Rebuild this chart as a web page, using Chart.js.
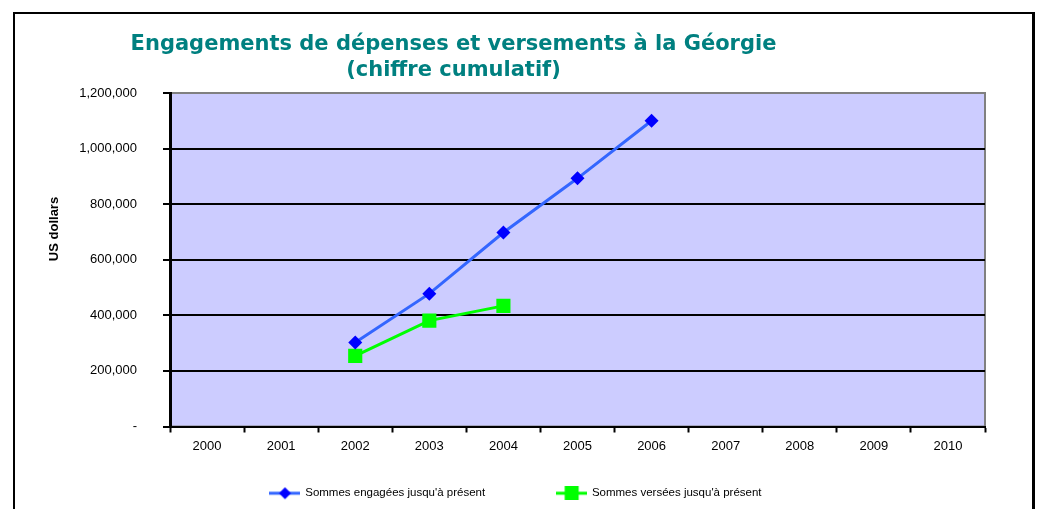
<!DOCTYPE html>
<html>
<head>
<meta charset="utf-8">
<script src="https://cdn.jsdelivr.net/npm/chart.js@4.4.1/dist/chart.umd.min.js"></script>
<style>
  html, body { margin:0; padding:0; background:#fff; }
  #wrap { position:relative; width:1042px; height:509px; overflow:hidden; }
  #frame { position:absolute; left:13px; top:12px; width:1017px; height:520px;
           border-left:2px solid #000; border-top:2px solid #000; border-right:3px solid #000; }
  #title { position:absolute; left:0; top:30px; width:907px; text-align:center;
           font:bold 21px "DejaVu Sans", Verdana, sans-serif; color:#008080; line-height:26px; }
  canvas { position:absolute; left:0; top:0; }
</style>
</head>
<body>
<div id="wrap">
  <div id="frame"></div>
  <canvas id="chart" width="1042" height="509"></canvas>
  <div id="title">Engagements de dépenses et versements à la Géorgie<br>(chiffre cumulatif)</div>
</div>
<script>
// ---- data ----
const years = ['2000','2001','2002','2003','2004','2005','2006','2007','2008','2009','2010'];
const engagees = [null, null, 302000, 478000, 698000, 893000, 1100000, null, null, null, null];
const versees  = [null, null, 254000, 381000, 434000, null, null, null, null, null, null];
const seriesLabels = ['Sommes engagées jusqu\'à présent', 'Sommes versées jusqu\'à présent'];
const yTitle = 'US dollars';
const yMax = 1200000;
const yStep = 200000;

// legend sample: line with the marker in the middle
function legendIcon(lineColor, markColor, shape) {
  const c = document.createElement('canvas');
  c.width = 31; c.height = 14;
  const g = c.getContext('2d');
  g.strokeStyle = lineColor; g.lineWidth = 3;
  g.beginPath(); g.moveTo(0, 7); g.lineTo(31, 7); g.stroke();
  g.fillStyle = markColor;
  g.beginPath();
  if (shape === 'diamond') {
    g.moveTo(15.5, 1); g.lineTo(21.5, 7); g.lineTo(15.5, 13); g.lineTo(9.5, 7);
  } else {
    g.rect(8.5, 0, 14, 14);
  }
  g.fill();
  return c;
}

const plotBg = {
  id: 'plotBg',
  afterLayout(chart) {
    // nudge the legend to where the original has it
    const lg = chart.legend;
    lg.left += 2; lg.right += 2;
    lg.top -= 38; lg.bottom -= 38;
  },
  beforeDraw(chart) {
    const { ctx, chartArea: a } = chart;
    ctx.save();
    ctx.fillStyle = '#CCCCFF';
    ctx.fillRect(a.left, a.top, a.right - a.left, a.bottom - a.top);
    ctx.strokeStyle = '#808080';
    ctx.lineWidth = 2;
    ctx.strokeRect(a.left, a.top, a.right - a.left, a.bottom - a.top);
    ctx.restore();
  },
  afterDraw(chart) {
    const ctx = chart.ctx;
    ctx.save();
    ctx.translate(54, 229);
    ctx.rotate(-Math.PI / 2);
    ctx.font = 'bold 13px "Liberation Sans", Arial, sans-serif';
    ctx.fillStyle = '#000';
    ctx.textAlign = 'center';
    ctx.textBaseline = 'middle';
    ctx.fillText(yTitle, 0, 0);
    ctx.restore();
  }
};

Chart.defaults.font.family = '"Liberation Sans", Arial, sans-serif';
Chart.defaults.color = '#000';

new Chart(document.getElementById('chart'), {
  type: 'line',
  data: {
    labels: years,
    datasets: [
      { label: seriesLabels[0], data: engagees, borderColor:'#3366FF', borderWidth:3,
        pointStyle:'rectRot', pointRadius:7, pointBackgroundColor:'#0000FF', pointBorderColor:'#0000FF',
        pointBorderWidth:0, spanGaps:false },
      { label: seriesLabels[1], data: versees, borderColor:'#00FF00', borderWidth:3,
        pointStyle:'rect', pointRadius:10, pointBackgroundColor:'#00FF00', pointBorderColor:'#00FF00',
        pointBorderWidth:0, spanGaps:false }
    ]
  },
  options: {
    responsive: false,
    animation: false,
    layout: { padding: { left: 43, right: 57, top: 93, bottom: -38 } },
    plugins: {
      title: { display: false },
      tooltip: { enabled: false },
      legend: {
        position: 'bottom',
        labels: {
          usePointStyle: true,
          pointStyleWidth: 29,
          padding: 72,
          font: { size: 11.5 },
          color: '#000',
          generateLabels(chart) {
            return [
              { text: seriesLabels[0], pointStyle: legendIcon('#3366FF', '#0000FF', 'diamond'), datasetIndex: 0, lineWidth: 0, hidden: false },
              { text: seriesLabels[1], pointStyle: legendIcon('#00FF00', '#00FF00', 'square'), datasetIndex: 1, lineWidth: 0, hidden: false }
            ];
          }
        }
      }
    },
    scales: {
      x: {
        offset: true,
        grid: { offset: true, drawOnChartArea: false, drawTicks: true, tickLength: 6, tickColor: '#000', tickWidth: 2 },
        border: { color: '#000', width: 2 },
        ticks: { font: { size: 13 }, color: '#000', padding: 6, maxRotation: 0 },
        afterFit(s) { s.height = 27; }
      },
      y: {
        min: 0, max: yMax,
        grid: {
          color: ctx => (ctx.tick && ctx.tick.value === yMax) ? '#808080' : '#000',
          lineWidth: 2, tickLength: 7, tickColor: '#000', tickWidth: 2
        },
        border: { color: '#000', width: 3 },
        ticks: {
          stepSize: yStep, font: { size: 13 }, color: '#000', padding: 26,
          callback: v => v === 0 ? '-' : v.toLocaleString('en-US')
        },
        afterFit(s) { s.width = 127; }
      }
    }
  },
  plugins: [plotBg]
});
</script>
</body>
</html>
